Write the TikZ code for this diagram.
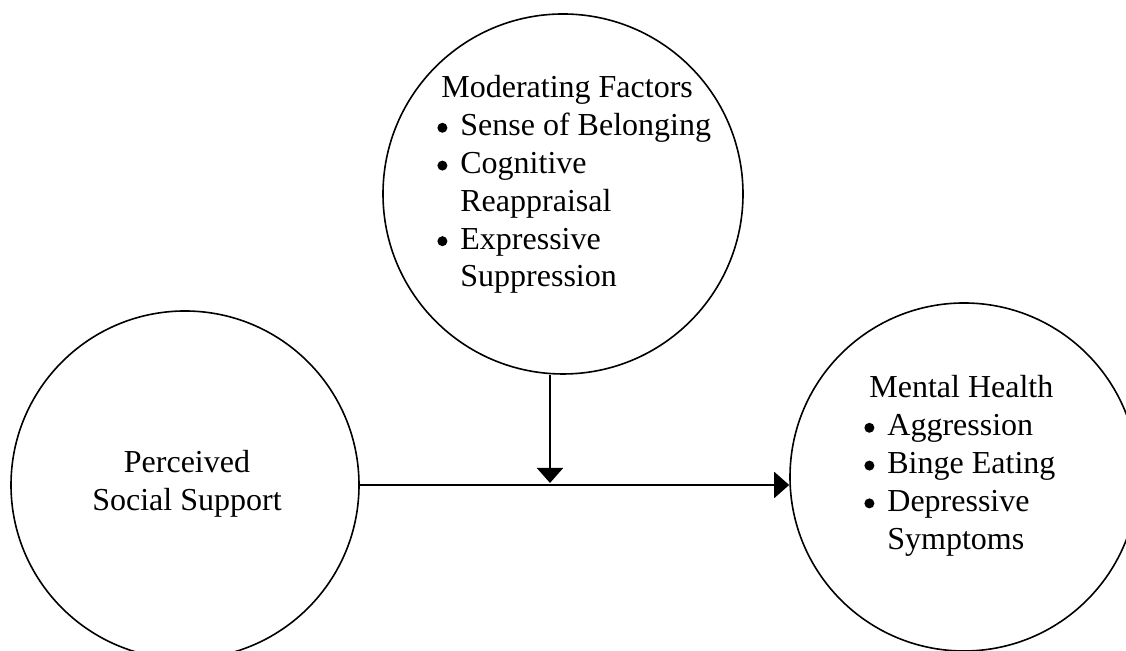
\documentclass[tikz,border=0pt]{standalone}
\usepackage{fontspec}
\setmainfont{Liberation Serif}
\usepackage{tikz}
\usetikzlibrary{arrows.meta,positioning}
\newcommand{\bul}{\makebox[11.5pt][l]{\tikz[baseline=0pt]{\fill (2.5pt,4pt) circle (2.5pt);}}}

\begin{document}
\begin{tikzpicture}[x=0.5pt,y=0.5pt,
        var/.style={draw,circle,line width=0.8pt,inner sep=0pt},
        txt/.style={inner sep=0pt,anchor=base west,font=\fontsize{16}{18.9}\selectfont},
        link/.style={line width=1pt,-{Triangle[width=13pt,length=7.5pt]}}]
                \useasboundingbox (0,0) rectangle (1126,651);
                \clip (0,0) rectangle (1126,651);
                \node[var,minimum size=174pt] (pss) at (185,166) {};
                \node[var,minimum size=180pt] (mf) at (563,457) {};
                \node[var,minimum size=174pt] (mh) at (964,174) {};
                \node[txt,anchor=base] (psstxt) at (187,178) {\begin{tabular}[t]{@{}c@{}}Perceived\\Social Support\end{tabular}};
                \node[txt] (mftxt) at (437,553) {\begin{tabular}[t]{@{}l@{}l@{}}
                    \multicolumn{2}{@{\hspace{2pt}}l@{}}{Moderating Factors}\\
                    \bul & Sense of Belonging\\
                    \bul & Cognitive\\
                         & Reappraisal\\
                    \bul & Expressive\\
                         & Suppression
                    \end{tabular}};
                \node[txt] (mhtxt) at (864,253) {\begin{tabular}[t]{@{}l@{}l@{}}
                    \multicolumn{2}{@{\hspace{2.5pt}}l@{}}{Mental Health}\\
                    \bul & Aggression\\
                    \bul & Binge Eating\\
                    \bul & Depressive\\
                         & Symptoms
                    \end{tabular}};
                \draw[link] (pss.east) -- (pss.east -| mh.west);
                \coordinate (mod) at (550,168);
                \draw[link] (mod |- mf.south) -- (mod);
            \end{tikzpicture}
\end{document}
